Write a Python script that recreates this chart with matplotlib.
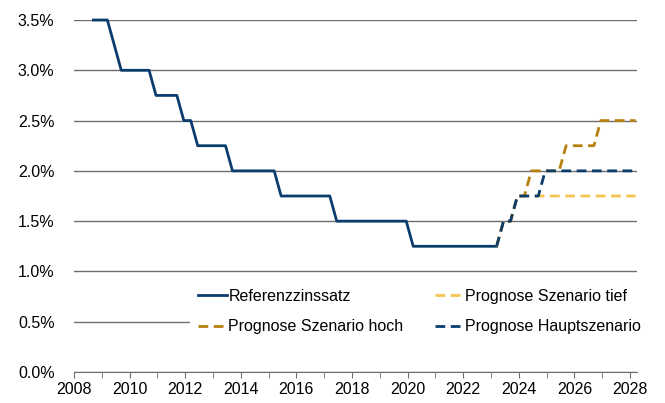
import numpy as np
import matplotlib.pyplot as plt
from matplotlib.ticker import MultipleLocator, FuncFormatter

plt.rcParams['font.family'] = ['Liberation Sans', 'DejaVu Sans']

# Quartalswerte, erster Punkt Herbst 2008, Abstand 1/4 Jahr
start = 2008.7
schritt = 0.25

referenz = [3.5, 3.5, 3.5, 3.25, 3.0, 3.0, 3.0, 3.0, 3.0,
            2.75, 2.75, 2.75, 2.75, 2.5, 2.5,
            2.25, 2.25, 2.25, 2.25, 2.25,
            2.0, 2.0, 2.0, 2.0, 2.0, 2.0, 2.0,
            1.75, 1.75, 1.75, 1.75, 1.75, 1.75, 1.75, 1.75,
            1.5, 1.5, 1.5, 1.5, 1.5, 1.5, 1.5, 1.5, 1.5, 1.5, 1.5,
            1.25, 1.25, 1.25, 1.25, 1.25, 1.25, 1.25, 1.25, 1.25, 1.25, 1.25, 1.25, 1.25]

# Prognosen ab letztem Ist-Wert (Index 58)
prog_start = 58
szenario_tief = [1.25, 1.5, 1.5, 1.75, 1.75, 1.75, 1.75, 1.75, 1.75, 1.75,
                 1.75, 1.75, 1.75, 1.75, 1.75, 1.75, 1.75, 1.75, 1.75, 1.75, 1.75]
szenario_hoch = [1.25, 1.5, 1.5, 1.75, 1.75, 2.0, 2.0, 2.0, 2.0, 2.0,
                 2.25, 2.25, 2.25, 2.25, 2.25, 2.5, 2.5, 2.5, 2.5, 2.5, 2.5]
hauptszenario = [1.25, 1.5, 1.5, 1.75, 1.75, 1.75, 1.75, 2.0, 2.0, 2.0,
                 2.0, 2.0, 2.0, 2.0, 2.0, 2.0, 2.0, 2.0, 2.0, 2.0, 2.0]

navy = '#0b3c6e'
gold = '#b8800f'
hellgelb = '#f5c451'

x_ref = start + schritt * np.arange(len(referenz))
x_prog = start + schritt * (prog_start + np.arange(len(hauptszenario)))

fig = plt.figure(figsize=(6.65, 4.03), dpi=100)
ax = fig.add_axes([74 / 665, 31 / 403, (637 - 74) / 665, (372 - 20) / 403])

strich = (0, (3.5, 2))
l_ref, = ax.plot(x_ref, referenz, color=navy, lw=2, clip_on=False, label='Referenzzinssatz')
l_tief, = ax.plot(x_prog, szenario_tief, color=hellgelb, lw=2, ls=strich, label='Prognose Szenario tief')
l_hoch, = ax.plot(x_prog, szenario_hoch, color=gold, lw=2, ls=strich, label='Prognose Szenario hoch')
l_haupt, = ax.plot(x_prog, hauptszenario, color=navy, lw=2, ls=strich, label='Prognose Hauptszenario')

ax.set_xlim(2008, 2028.25)
ax.set_ylim(0, 3.5)
ax.yaxis.set_major_locator(MultipleLocator(0.5))
ax.yaxis.set_major_formatter(FuncFormatter(lambda v, p: f'{v:.1f}%'))
ax.xaxis.set_major_locator(MultipleLocator(2))
ax.xaxis.set_minor_locator(MultipleLocator(1))
ax.xaxis.set_major_formatter(FuncFormatter(lambda v, p: f'{int(round(v))}'))

ax.grid(axis='y', color='#6e6e6e', lw=1)
ax.set_axisbelow(True)
for s in ['top', 'right', 'left']:
    ax.spines[s].set_visible(False)
ax.spines['bottom'].set_color('#6e6e6e')
ax.tick_params(axis='y', length=0, labelsize=11.5, pad=14)
ax.tick_params(axis='x', which='both', length=4, color='#6e6e6e', labelsize=11.5, pad=3)

leg = ax.legend([l_ref, l_hoch, l_tief, l_haupt],
                ['Referenzzinssatz', 'Prognose Szenario hoch', 'Prognose Szenario tief', 'Prognose Hauptszenario'],
                ncol=2, loc='upper left', bbox_to_anchor=((190 - 74) / 563, (372 - 281) / 352),
                frameon=True, fancybox=False, framealpha=1, edgecolor='none', facecolor='white',
                fontsize=11.5, handlelength=1.8, handletextpad=0.1, columnspacing=1.95,
                labelspacing=0.95, borderaxespad=0, borderpad=0.5)

fig.savefig('out.png', dpi=100)
